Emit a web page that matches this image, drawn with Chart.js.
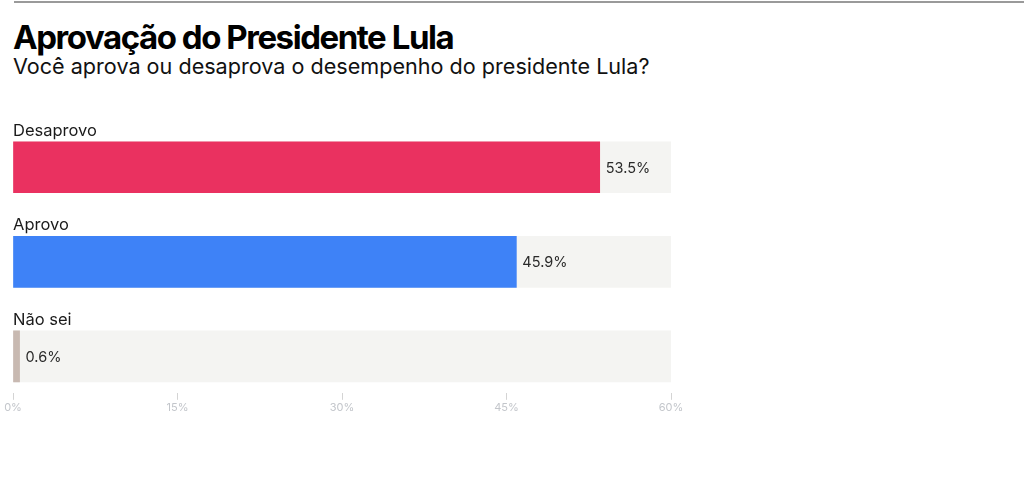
<!DOCTYPE html>
<html>
<head>
<meta charset="utf-8">
<script src="https://cdn.jsdelivr.net/npm/chart.js@4"></script>
<style>
    html, body { margin: 0; padding: 0; background: #fff; }
    body { width: 1024px; height: 479px; position: relative; overflow: hidden; font-family: Inter, "Noto Sans", sans-serif; }
    .top-rule { position: absolute; left: 14px; right: 0; top: 1px; height: 2px; background: #9a9a9a; }
    .title { position: absolute; left: 13px; top: 17px; font-size: 33px; font-weight: 700; letter-spacing: -1.45px; color: #000; line-height: 40px; white-space: nowrap; }
    .subtitle { position: absolute; left: 13px; top: 52px; font-size: 21.6px; font-weight: 400; color: #111; line-height: 28px; white-space: nowrap; }
    #chart-wrap { position: absolute; left: 0; top: 0; width: 1024px; height: 479px; }
</style>
</head>
<body>
<div class="top-rule"></div>
<div class="title">Aprovação do Presidente Lula</div>
<div class="subtitle">Você aprova ou desaprova o desempenho do presidente Lula?</div>
<div id="chart-wrap"><canvas id="approval-chart"></canvas></div>
<script>
"use strict";

// Data
const categories = ['Desaprovo', 'Aprovo', 'Não sei'];
const values = [53.5, 45.9, 0.6];
const barColors = ['#ea3160', '#3e82f7', '#c8b9b1'];
const trackValue = 60;
const xTicks = [0, 15, 30, 45, 60];

var InitApprovalChart = function () {
    var trackColor = '#f4f4f2';

    // labels above each bar and value labels after each bar
    const barLabels = {
        id: 'barLabels',
        afterDatasetsDraw(chart) {
            const ctx = chart.ctx;
            const meta = chart.getDatasetMeta(1);
            const area = chart.chartArea;
            ctx.save();
            meta.data.forEach((bar, i) => {
                const top = bar.y - bar.height / 2;

                ctx.font = '16.5px Inter, "Noto Sans", sans-serif';
                ctx.fillStyle = '#1a1a1a';
                ctx.textAlign = 'left';
                ctx.textBaseline = 'alphabetic';
                ctx.fillText(categories[i], area.left, top - 6);

                ctx.font = '14.5px Inter, "Noto Sans", sans-serif';
                ctx.fillStyle = '#2a2a2a';
                ctx.textBaseline = 'middle';
                ctx.fillText(values[i].toFixed(1) + '%', bar.x + 6, bar.y + 1);
            });
            ctx.restore();
        }
    };

    var approvalChart = function () {
        const el = document.querySelector('#approval-chart');
        if (!el) {
            return;
        }

        var config = {
            type: 'bar',
            data: {
                datasets: [
                    {
                        label: 'track',
                        data: categories.map((c, i) => ({ x: trackValue, y: i })),
                        backgroundColor: trackColor,
                        grouped: false,
                        order: 2,
                        barThickness: 51
                    },
                    {
                        label: 'valores',
                        data: values.map((v, i) => ({ x: v, y: i })),
                        backgroundColor: barColors,
                        grouped: false,
                        order: 1,
                        barThickness: 51
                    }
                ]
            },
            options: {
                indexAxis: 'y',
                responsive: true,
                maintainAspectRatio: false,
                animation: false,
                layout: {
                    padding: { left: 13, right: 353, top: 120, bottom: 64 }
                },
                plugins: {
                    legend: { display: false },
                    tooltip: { enabled: false },
                    title: { display: false }
                },
                scales: {
                    y: {
                        type: 'linear',
                        reverse: true,
                        offset: false,
                        min: -0.5,
                        max: 2.385,
                        grid: { offset: false },
                        display: false
                    },
                    x: {
                        min: 0,
                        max: 60,
                        afterBuildTicks: (scale) => {
                            scale.ticks = xTicks.map(v => ({ value: v }));
                        },
                        grid: {
                            drawOnChartArea: false,
                            tickLength: 7,
                            tickColor: '#d4d4d4',
                            tickWidth: 1
                        },
                        border: { display: false },
                        ticks: {
                            padding: 1,
                            color: '#c3c6cb',
                            font: { size: 11, family: 'Inter, "Noto Sans", sans-serif' },
                            callback: (v) => v + '%'
                        }
                    }
                }
            },
            plugins: [barLabels]
        };

        new Chart(el.getContext('2d'), config);
    };

    return {
        init: function () {
            approvalChart();
        }
    };
}();

document.addEventListener('DOMContentLoaded', function () {
    InitApprovalChart.init();
});
</script>
</body>
</html>
